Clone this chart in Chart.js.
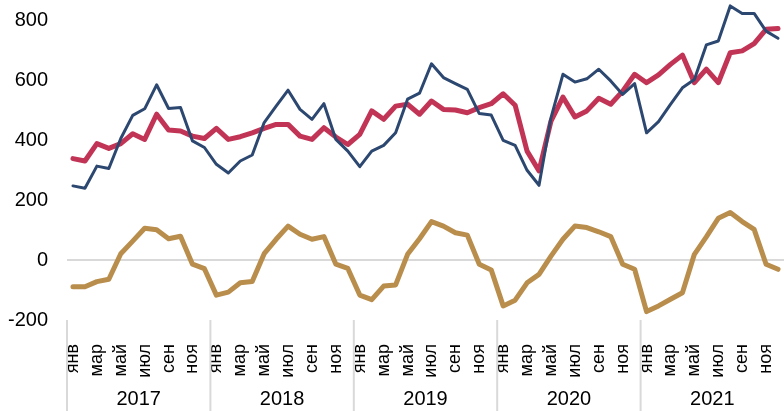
<!DOCTYPE html>
<html lang="ru">
<head>
  <meta charset="UTF-8" />
  <title>Line chart 2017-2021</title>
  <script src="https://cdn.jsdelivr.net/npm/chart.js"></script>
  <style>
    html, body { margin: 0; padding: 0; background: #fff; }
    #wrap { width: 784px; height: 411px; position: relative; }
  </style>
</head>
<body>
<div id="wrap"><canvas id="myChart"></canvas></div>

<script>
  // months and years on the x axis
  const monthNames = ['янв', 'фев', 'мар', 'апр', 'май', 'июн', 'июл', 'авг', 'сен', 'окт', 'ноя', 'дек'];
  const years = ['2017', '2018', '2019', '2020', '2021'];

  // y ticks
  const yMin = -200;
  const yMax = 800;
  const yStep = 200;

  // series values, Jan 2017 .. Dec 2021
  const blueSeries = [
    247, 239, 313, 305, 405, 482, 504, 584, 505, 508, 397, 375,
    319, 290, 330, 350, 458, 513, 566, 502, 469, 521, 402, 363,
    311, 363, 382, 424, 536, 556, 654, 608, 588, 569, 488, 483,
    399, 382, 299, 249, 474, 619, 593, 604, 636, 597, 552, 588,
    424, 461, 519, 574, 602, 717, 730, 847, 822, 822, 763, 739
  ];
  const redSeries = [
    338, 330, 388, 372, 388, 421, 402, 486, 433, 430, 413, 405,
    439, 402, 411, 424, 439, 452, 452, 413, 402, 441, 410, 385,
    419, 497, 469, 513, 519, 486, 530, 502, 500, 491, 508, 521,
    554, 516, 363, 297, 463, 543, 477, 497, 539, 519, 563, 619,
    591, 617, 652, 683, 591, 636, 591, 691, 697, 721, 769, 772
  ];
  const goldSeries = [
    -89, -89, -72, -64, 21, 63, 106, 101, 71, 79, -14, -29,
    -117, -107, -76, -72, 21, 69, 113, 86, 69, 78, -14, -28,
    -117, -132, -87, -83, 19, 71, 128, 113, 91, 83, -14, -33,
    -153, -134, -76, -48, 13, 69, 113, 108, 94, 78, -14, -31,
    -172, -153, -131, -109, 19, 77, 139, 158, 128, 102, -14, -31
  ];

  const labels = [];
  years.forEach(y => monthNames.forEach(m => labels.push(m + ' ' + y)));

  const FONT = '"Liberation Sans", Arial, sans-serif';
  const sepColor = '#d9d9d9';

  // year captions + separators under the month labels
  const yearAxisPlugin = {
    id: 'yearAxis',
    afterDraw(chart) {
      const x = chart.scales.x;
      const ctx = chart.ctx;
      const half = (x.getPixelForValue(1) - x.getPixelForValue(0)) / 2;
      const top = chart.chartArea.bottom;
      const bottom = chart.height;
      ctx.save();
      ctx.strokeStyle = sepColor;
      ctx.lineWidth = 2;
      ctx.fillStyle = '#000';
      ctx.font = '20px ' + FONT;
      ctx.textAlign = 'center';
      ctx.textBaseline = 'middle';
      years.forEach((yr, k) => {
        const left = x.getPixelForValue(k * 12) - half;
        const right = x.getPixelForValue(k * 12 + 11) + half;
        ctx.beginPath();
        ctx.moveTo(left, top);
        ctx.lineTo(left, bottom);
        ctx.stroke();
        ctx.fillText(yr, (left + right) / 2, 399);
      });
      ctx.restore();
    }
  };

  const ctx = document.getElementById('myChart').getContext('2d');

  const myChart = new Chart(ctx, {
    type: 'line',
    data: {
      labels: labels,
      datasets: [
        {
          label: 'Ряд 1',
          data: blueSeries,
          borderColor: '#2c4770',
          borderWidth: 3,
          pointRadius: 0,
          clip: false,
          tension: 0
        },
        {
          label: 'Ряд 2',
          data: redSeries,
          borderColor: '#c23455',
          borderWidth: 5,
          pointRadius: 0,
          clip: false,
          tension: 0
        },
        {
          label: 'Ряд 3',
          data: goldSeries,
          borderColor: '#b98d4c',
          borderWidth: 5,
          pointRadius: 0,
          clip: false,
          tension: 0
        }
      ]
    },
    options: {
      responsive: true,
      maintainAspectRatio: false,
      animation: false,
      layout: { padding: { top: 20, right: 0, bottom: 0, left: 0 } },
      elements: { line: { borderJoinStyle: 'round', borderCapStyle: 'round' } },
      plugins: {
        legend: { display: false },
        tooltip: { enabled: false }
      },
      scales: {
        x: {
          type: 'category',
          offset: true,
          border: { display: false },
          grid: { display: false },
          afterFit: scale => {
            scale.height = 91;
            scale.paddingLeft = 0;
            scale.paddingRight = 0;
          },
          ticks: {
            autoSkip: false,
            minRotation: 90,
            maxRotation: 90,
            padding: 16,
            color: '#000',
            font: { family: FONT, size: 18 },
            callback: (val, idx) => idx % 2 === 0 ? monthNames[idx % 12] : ''
          }
        },
        y: {
          min: yMin,
          max: yMax,
          border: { display: false },
          afterFit: scale => {
            scale.width = 67;
            scale.paddingTop = 0;
            scale.paddingBottom = 0;
          },
          grid: {
            drawTicks: false,
            lineWidth: 2,
            color: c => c.tick && c.tick.value === 0 ? sepColor : 'rgba(0,0,0,0)'
          },
          ticks: {
            stepSize: yStep,
            padding: 19,
            color: '#000',
            font: { family: FONT, size: 20 }
          }
        }
      }
    },
    plugins: [yearAxisPlugin]
  });
</script>
</body>
</html>
